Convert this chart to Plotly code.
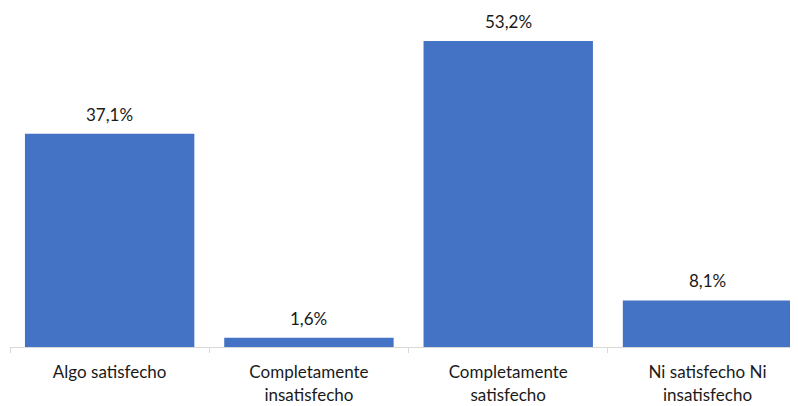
import plotly.graph_objects as go

categories = ["Algo satisfecho", "Completamente<br>insatisfecho", "Completamente<br>satisfecho", "Ni satisfecho Ni<br>insatisfecho"]
values = [37.1, 1.6, 53.2, 8.1]
labels = ["37,1%", "1,6%", "53,2%", "8,1%"]

fig = go.Figure(go.Bar(
    x=categories, y=values,
    marker=dict(color="#4472C4", line=dict(width=0)),
    width=0.85,
    hoverinfo="skip",
))

for c, v, t in zip(categories, values, labels):
    fig.add_annotation(x=c, y=v, text=t, showarrow=False, yanchor="bottom", yshift=7,
                       font=dict(family="Lato", size=17, color="#1a1a1a"))

fig.update_layout(
    width=790, height=398,
    margin=dict(l=2, r=0, t=0, b=59),
    paper_bgcolor="white", plot_bgcolor="white",
    showlegend=False,
    xaxis=dict(
        type="category", range=[-0.5, 3.454],
        showline=True, linecolor="#d9d9d9", linewidth=1,
        ticks="outside", tickson="boundaries", ticklen=5, tickcolor="#d9d9d9",
        tickfont=dict(family="Lato", size=17, color="#1a1a1a"),
        ticklabelstandoff=10,
        showgrid=False,
    ),
    yaxis=dict(range=[0, 58.96], visible=False, showgrid=False, zeroline=False),
)

fig.write_html("out.html")
